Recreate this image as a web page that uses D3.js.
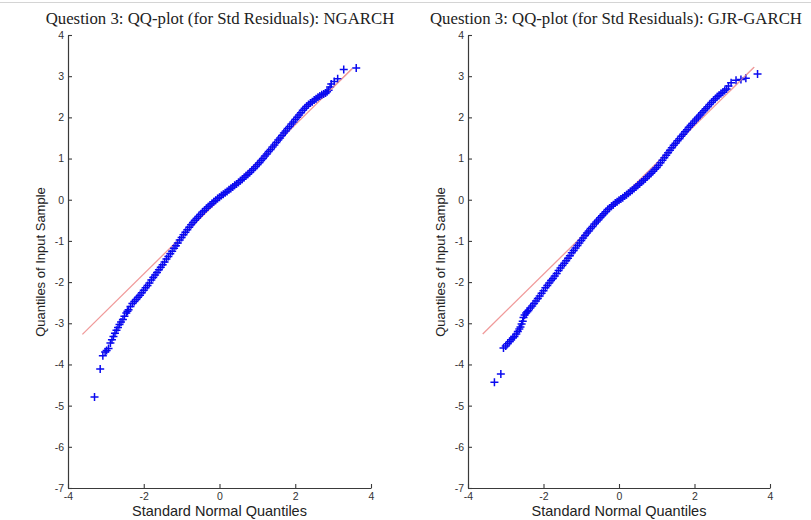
<!DOCTYPE html>
<html><head><meta charset="utf-8">
<script src="https://cdn.jsdelivr.net/npm/d3@7"></script>
<style>html,body{margin:0;padding:0;background:#fff;}svg{display:block;}</style>
</head><body>
<svg id="chart" width="811" height="520"></svg>
<script>
// ---- data ----
const titles = ["Question 3: QQ-plot (for Std Residuals): NGARCH", "Question 3: QQ-plot (for Std Residuals): GJR-GARCH"];
const xLabel = "Standard Normal Quantiles";
const yLabel = "Quantiles of Input Sample";
const xTicks = [-4, -2, 0, 2, 4];
const yTicks = [-7, -6, -5, -4, -3, -2, -1, 0, 1, 2, 3, 4];

// theoretical quantiles of the dense central part (shared grid)
const bodyQx = [-2.40,-2.35,-2.30,-2.25,-2.20,-2.15,-2.10,-2.05,-2.00,-1.95,-1.90,-1.85,-1.80,-1.75,-1.70,-1.65,-1.60,-1.55,-1.50,-1.45,-1.40,-1.35,-1.30,-1.25,-1.20,-1.15,-1.10,-1.05,-1.00,-0.95,-0.90,-0.85,-0.80,-0.75,-0.70,-0.65,-0.60,-0.55,-0.50,-0.45,-0.40,-0.35,-0.30,-0.25,-0.20,-0.15,-0.10,-0.05,0.00,0.05,0.10,0.15,0.20,0.25,0.30,0.35,0.40,0.45,0.50,0.55,0.60,0.65,0.70,0.75,0.80,0.85,0.90,0.95,1.00,1.05,1.10,1.15,1.20,1.25,1.30,1.35,1.40,1.45,1.50,1.55,1.60,1.65,1.70,1.75,1.80,1.85,1.90,1.95,2.00,2.05,2.10,2.15,2.20,2.25,2.30,2.35,2.40,2.45,2.50,2.55,2.60,2.65,2.70,2.75,2.80];

// NGARCH sample quantiles
const ngBodyY = [-2.67,-2.59,-2.52,-2.47,-2.42,-2.37,-2.32,-2.26,-2.20,-2.14,-2.08,-2.02,-1.95,-1.89,-1.83,-1.77,-1.70,-1.64,-1.58,-1.51,-1.44,-1.38,-1.31,-1.25,-1.18,-1.12,-1.05,-0.98,-0.92,-0.85,-0.79,-0.73,-0.67,-0.61,-0.55,-0.50,-0.45,-0.40,-0.35,-0.30,-0.26,-0.21,-0.17,-0.13,-0.09,-0.05,-0.01,0.03,0.06,0.10,0.13,0.17,0.20,0.24,0.27,0.31,0.35,0.38,0.42,0.46,0.50,0.54,0.58,0.62,0.66,0.71,0.75,0.80,0.85,0.90,0.95,1.00,1.06,1.11,1.17,1.22,1.28,1.33,1.39,1.45,1.50,1.56,1.62,1.67,1.73,1.78,1.84,1.89,1.95,2.00,2.06,2.11,2.17,2.22,2.27,2.31,2.35,2.38,2.42,2.45,2.49,2.52,2.55,2.57,2.59];
const ngTailX = [-3.30,-3.15,-3.08,-3.02,-2.98,-2.93,-2.88,-2.84,-2.80,-2.76,-2.72,-2.68,-2.64,-2.60,-2.55,-2.51,-2.46,-2.43, 2.84,2.88,2.92,2.95,3.03,3.12,3.28,3.61];
const ngTailY = [-4.79,-4.11,-3.79,-3.70,-3.66,-3.61,-3.48,-3.40,-3.32,-3.24,-3.17,-3.10,-3.03,-2.97,-2.91,-2.83,-2.75,-2.71, 2.62,2.66,2.74,2.81,2.87,2.94,3.16,3.20];
const ngRefX = [-3.62, 3.50];
const ngRefY = [-3.27, 3.18];

// GJR-GARCH sample quantiles
const gjrBodyY = [-2.69,-2.63,-2.58,-2.52,-2.46,-2.40,-2.34,-2.27,-2.21,-2.14,-2.08,-2.02,-1.96,-1.91,-1.85,-1.79,-1.72,-1.66,-1.60,-1.54,-1.48,-1.42,-1.36,-1.29,-1.23,-1.17,-1.11,-1.05,-0.99,-0.93,-0.87,-0.81,-0.76,-0.70,-0.65,-0.59,-0.54,-0.49,-0.44,-0.39,-0.34,-0.29,-0.24,-0.20,-0.16,-0.12,-0.08,-0.05,-0.01,0.02,0.05,0.09,0.12,0.16,0.20,0.23,0.27,0.31,0.35,0.39,0.43,0.47,0.51,0.56,0.60,0.64,0.69,0.74,0.78,0.84,0.90,0.96,1.02,1.08,1.14,1.20,1.26,1.32,1.37,1.43,1.48,1.54,1.59,1.65,1.70,1.76,1.81,1.86,1.91,1.96,2.01,2.06,2.11,2.16,2.21,2.26,2.31,2.36,2.41,2.45,2.50,2.54,2.58,2.61,2.65];
const gjrTailX = [-3.30,-3.13,-3.06,-3.00,-2.95,-2.90,-2.86,-2.81,-2.77,-2.72,-2.68,-2.64,-2.61,-2.58,-2.55,-2.53,-2.50,-2.46,-2.43, 2.85,2.90,2.97,3.10,3.23,3.36,3.67];
const gjrTailY = [-4.43,-4.23,-3.60,-3.55,-3.50,-3.45,-3.40,-3.36,-3.32,-3.26,-3.20,-3.14,-3.09,-3.02,-2.95,-2.86,-2.80,-2.75,-2.72, 2.69,2.76,2.84,2.90,2.92,2.95,3.05];
const gjrRefX = [-3.61, 3.58];
const gjrRefY = [-3.26, 3.22];

// ---- drawing ----
const svg = d3.select("#chart");
svg.append("line").attr("x1",0).attr("x2",811).attr("y1",2.5).attr("y2",2.5)
  .attr("stroke","#d4d4d4").attr("stroke-width",1);

const panels = [
  {title: titles[0], bodyY: ngBodyY, tailX: ngTailX, tailY: ngTailY, refX: ngRefX, refY: ngRefY,
   x0: 68, x1: 371, titleX: 220, ylabX: 42},
  {title: titles[1], bodyY: gjrBodyY, tailX: gjrTailX, tailY: gjrTailY, refX: gjrRefX, refY: gjrRefY,
   x0: 468, x1: 770, titleX: 616, ylabX: 442}
];

const plusPath = "M-4,0H4M0,-4V4";

panels.forEach(p => {
  const x = d3.scaleLinear().domain([-4, 4]).range([p.x0, p.x1]);
  const y = d3.scaleLinear().domain([-7, 4]).range([488, 35]);
  const g = svg.append("g");

  // reference line (under the points)
  g.append("line")
    .attr("x1", x(p.refX[0])).attr("y1", y(p.refY[0]))
    .attr("x2", x(p.refX[1])).attr("y2", y(p.refY[1]))
    .attr("stroke", "#f09a9a").attr("stroke-width", 1.3);

  // points
  const pts = bodyQx.map((q, i) => [q, p.bodyY[i]])
    .concat(p.tailX.map((q, i) => [q, p.tailY[i]]));
  g.append("g").selectAll("path").data(pts).join("path")
    .attr("d", plusPath)
    .attr("transform", d => `translate(${x(d[0])},${y(d[1])})`)
    .attr("fill", "none").attr("stroke", "#0a0af0").attr("stroke-width", 1.5);

  // red line segment visible above the sparse upper tail
  g.append("line")
    .attr("x1", x(2.9)).attr("y1", y(p.refY[0] + (2.9 - p.refX[0]) * (p.refY[1]-p.refY[0])/(p.refX[1]-p.refX[0])))
    .attr("x2", x(p.refX[1])).attr("y2", y(p.refY[1]))
    .attr("stroke", "#f09a9a").attr("stroke-width", 1.2).attr("opacity", 0.7);

  // axes
  const fmt = d => String(d);
  const ax = g.append("g").attr("transform", "translate(0,488)")
    .call(d3.axisBottom(x).tickValues(xTicks).tickFormat(fmt).tickSizeInner(-4).tickSizeOuter(0).tickPadding(5));
  const ay = g.append("g").attr("transform", `translate(${p.x0},0)`)
    .call(d3.axisLeft(y).tickValues(yTicks).tickFormat(fmt).tickSizeInner(-4).tickSizeOuter(0).tickPadding(4));
  [ax, ay].forEach(a => {
    a.select(".domain").attr("stroke", "#3a3a3a").attr("stroke-width", 1.2);
    a.selectAll(".tick line").attr("stroke", "#3a3a3a").attr("stroke-width", 1.1);
    a.selectAll(".tick text").attr("font-family", "Liberation Sans, Arial, sans-serif")
      .attr("font-size", 10.5).attr("fill", "#333");
  });

  // title
  svg.append("text").attr("x", p.titleX).attr("y", 24).attr("text-anchor", "middle")
    .attr("font-family", "Liberation Serif, Times New Roman, serif").attr("font-size", 16.8)
    .attr("fill", "#222").text(p.title);
  // x label
  svg.append("text").attr("x", (p.x0 + p.x1) / 2).attr("y", 516).attr("text-anchor", "middle")
    .attr("font-family", "Liberation Sans, Arial, sans-serif").attr("font-size", 14.5)
    .attr("fill", "#222").text(xLabel);
  // y label
  svg.append("text").attr("transform", `translate(${p.ylabX},262) rotate(-90)`)
    .attr("text-anchor", "middle").attr("dominant-baseline", "middle")
    .attr("font-family", "Liberation Sans, Arial, sans-serif").attr("font-size", 13)
    .attr("fill", "#222").text(yLabel);
});
</script>
</body></html>
